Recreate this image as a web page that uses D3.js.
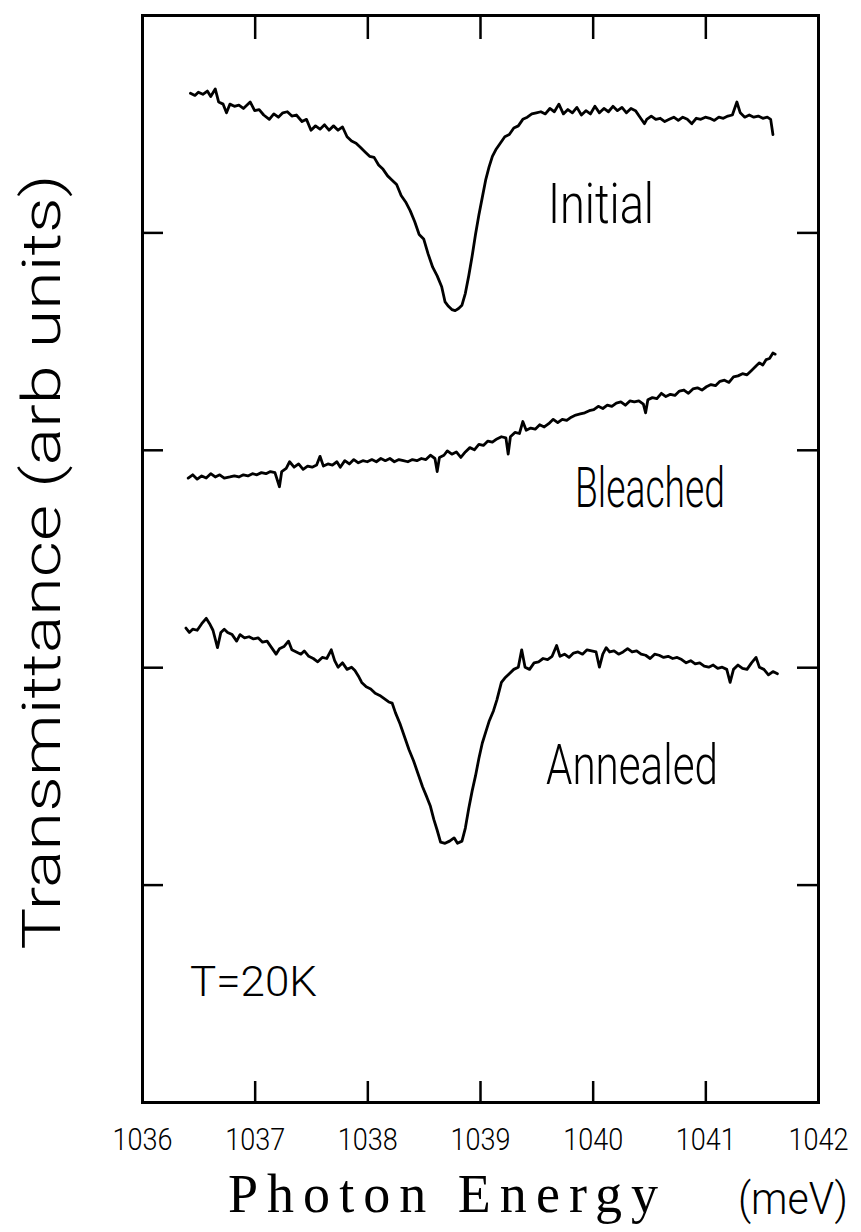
<!DOCTYPE html>
<html>
<head>
<meta charset="utf-8">
<script src="https://cdn.jsdelivr.net/npm/d3@7"></script>
<style>
  html, body { margin: 0; padding: 0; background: #fff; }
  svg { display: block; }
</style>
</head>
<body>
<svg id="chart" width="861" height="1232"></svg>
<script>
// ---- data ----
const xTickValues = [1036, 1037, 1038, 1039, 1040, 1041, 1042];
const xTickLabels = ["1036", "1037", "1038", "1039", "1040", "1041", "1042"];
const yTickValues = [1, 2, 3, 4];

const seriesNames = ["Initial", "Bleached", "Annealed"];

const initialData = [
  [1036.43,4.64],[1036.47,4.63],[1036.50,4.645],[1036.54,4.635],[1036.58,4.65],[1036.61,4.625],
  [1036.65,4.66],[1036.68,4.60],[1036.72,4.59],[1036.75,4.55],[1036.78,4.59],[1036.82,4.58],
  [1036.86,4.585],[1036.90,4.57],[1036.96,4.60],[1037.00,4.56],[1037.04,4.565],[1037.08,4.54],
  [1037.13,4.52],[1037.17,4.545],[1037.21,4.53],[1037.25,4.55],[1037.29,4.555],[1037.33,4.535],
  [1037.37,4.54],[1037.42,4.51],[1037.46,4.52],[1037.50,4.47],[1037.54,4.49],[1037.58,4.475],
  [1037.62,4.495],[1037.66,4.47],[1037.70,4.49],[1037.74,4.47],[1037.78,4.485],[1037.82,4.44],
  [1037.86,4.42],[1037.90,4.41],[1037.94,4.39],[1037.98,4.37],[1038.02,4.35],[1038.06,4.345],
  [1038.10,4.31],[1038.14,4.29],[1038.18,4.26],[1038.22,4.24],[1038.26,4.22],[1038.30,4.17],
  [1038.34,4.14],[1038.38,4.10],[1038.42,4.05],[1038.46,3.99],[1038.50,3.97],[1038.54,3.90],
  [1038.58,3.84],[1038.62,3.80],[1038.66,3.75],[1038.69,3.68],[1038.72,3.66],[1038.75,3.645],
  [1038.78,3.64],[1038.81,3.65],[1038.84,3.665],[1038.87,3.72],[1038.90,3.80],[1038.93,3.89],
  [1038.96,3.99],[1038.99,4.08],[1039.02,4.16],[1039.05,4.24],[1039.08,4.30],[1039.11,4.35],
  [1039.14,4.38],[1039.18,4.41],[1039.22,4.44],[1039.26,4.45],[1039.30,4.48],[1039.34,4.49],
  [1039.38,4.52],[1039.42,4.53],[1039.46,4.545],[1039.50,4.55],[1039.54,4.555],[1039.58,4.545],
  [1039.62,4.57],[1039.66,4.555],[1039.70,4.59],[1039.74,4.545],[1039.78,4.565],[1039.82,4.55],
  [1039.86,4.575],[1039.90,4.54],[1039.94,4.56],[1039.98,4.545],[1040.02,4.58],[1040.06,4.55],
  [1040.10,4.57],[1040.14,4.555],[1040.18,4.58],[1040.22,4.56],[1040.26,4.575],[1040.30,4.55],
  [1040.34,4.57],[1040.38,4.56],[1040.42,4.53],[1040.46,4.50],[1040.48,4.52],[1040.52,4.535],
  [1040.56,4.52],[1040.60,4.525],[1040.64,4.51],[1040.68,4.52],[1040.72,4.53],[1040.76,4.515],
  [1040.80,4.53],[1040.84,4.52],[1040.88,4.50],[1040.92,4.525],[1040.96,4.52],[1041.00,4.53],
  [1041.04,4.525],[1041.08,4.515],[1041.12,4.53],[1041.16,4.525],[1041.20,4.535],[1041.24,4.54],
  [1041.28,4.60],[1041.31,4.55],[1041.35,4.53],[1041.39,4.54],[1041.43,4.53],[1041.47,4.535],
  [1041.51,4.525],[1041.55,4.53],[1041.58,4.52],[1041.60,4.45]
];

const bleachedData = [
  [1036.41,2.87],[1036.45,2.885],[1036.49,2.865],[1036.53,2.88],[1036.57,2.87],[1036.61,2.89],
  [1036.65,2.875],[1036.69,2.885],[1036.73,2.87],[1036.78,2.875],[1036.82,2.88],[1036.86,2.875],
  [1036.90,2.885],[1036.94,2.88],[1036.98,2.89],[1037.02,2.885],[1037.06,2.895],[1037.10,2.89],
  [1037.14,2.90],[1037.18,2.895],[1037.22,2.83],[1037.24,2.90],[1037.28,2.915],[1037.31,2.945],
  [1037.35,2.92],[1037.39,2.935],[1037.43,2.91],[1037.47,2.925],[1037.51,2.92],[1037.55,2.93],
  [1037.58,2.97],[1037.61,2.925],[1037.65,2.935],[1037.69,2.93],[1037.73,2.945],[1037.76,2.92],
  [1037.80,2.95],[1037.84,2.935],[1037.88,2.955],[1037.92,2.94],[1037.96,2.95],[1038.00,2.945],
  [1038.04,2.955],[1038.08,2.945],[1038.12,2.96],[1038.16,2.95],[1038.20,2.96],[1038.24,2.945],
  [1038.28,2.955],[1038.32,2.95],[1038.36,2.945],[1038.40,2.955],[1038.44,2.95],[1038.48,2.96],
  [1038.52,2.955],[1038.56,2.975],[1038.60,2.96],[1038.62,2.90],[1038.64,2.965],[1038.68,2.975],
  [1038.71,2.995],[1038.75,2.98],[1038.79,2.99],[1038.83,2.965],[1038.87,2.99],[1038.91,3.01],
  [1038.95,3.00],[1038.99,3.025],[1039.03,3.02],[1039.07,3.04],[1039.11,3.035],[1039.15,3.05],
  [1039.19,3.06],[1039.23,3.055],[1039.25,2.98],[1039.27,3.06],[1039.31,3.08],[1039.35,3.075],
  [1039.38,3.13],[1039.41,3.09],[1039.45,3.10],[1039.49,3.095],[1039.53,3.115],[1039.57,3.105],
  [1039.61,3.12],[1039.65,3.14],[1039.69,3.125],[1039.73,3.14],[1039.77,3.135],[1039.81,3.15],
  [1039.85,3.16],[1039.89,3.165],[1039.93,3.17],[1039.97,3.18],[1040.01,3.185],[1040.05,3.20],
  [1040.09,3.19],[1040.13,3.205],[1040.17,3.20],[1040.21,3.215],[1040.25,3.22],[1040.29,3.205],
  [1040.33,3.225],[1040.37,3.22],[1040.41,3.225],[1040.45,3.21],[1040.47,3.17],[1040.49,3.23],
  [1040.53,3.24],[1040.57,3.235],[1040.61,3.26],[1040.65,3.245],[1040.69,3.255],[1040.73,3.25],
  [1040.77,3.27],[1040.81,3.275],[1040.85,3.26],[1040.89,3.28],[1040.93,3.285],[1040.97,3.275],
  [1041.01,3.29],[1041.05,3.30],[1041.09,3.295],[1041.13,3.315],[1041.17,3.32],[1041.21,3.31],
  [1041.25,3.335],[1041.29,3.34],[1041.33,3.35],[1041.37,3.345],[1041.41,3.365],[1041.45,3.385],
  [1041.48,3.40],[1041.51,3.39],[1041.54,3.415],[1041.57,3.42],[1041.60,3.445],[1041.62,3.44]
];

const annealedData = [
  [1036.39,2.18],[1036.42,2.16],[1036.45,2.175],[1036.49,2.17],[1036.53,2.20],[1036.57,2.225],
  [1036.60,2.20],[1036.63,2.17],[1036.67,2.09],[1036.70,2.16],[1036.73,2.175],[1036.76,2.16],
  [1036.80,2.15],[1036.84,2.12],[1036.87,2.15],[1036.91,2.135],[1036.95,2.14],[1036.99,2.13],
  [1037.03,2.135],[1037.07,2.115],[1037.11,2.12],[1037.15,2.09],[1037.19,2.06],[1037.22,2.085],
  [1037.26,2.095],[1037.30,2.12],[1037.33,2.08],[1037.37,2.07],[1037.41,2.06],[1037.44,2.075],
  [1037.48,2.05],[1037.52,2.04],[1037.56,2.025],[1037.60,2.045],[1037.64,2.04],[1037.68,2.08],
  [1037.71,2.03],[1037.74,2.00],[1037.78,2.02],[1037.82,1.99],[1037.86,2.00],[1037.89,1.985],
  [1037.92,1.96],[1037.95,1.93],[1037.99,1.91],[1038.03,1.90],[1038.07,1.88],[1038.11,1.87],
  [1038.15,1.855],[1038.19,1.84],[1038.22,1.835],[1038.25,1.79],[1038.29,1.74],[1038.33,1.68],
  [1038.37,1.62],[1038.41,1.57],[1038.45,1.51],[1038.49,1.45],[1038.53,1.40],[1038.56,1.36],
  [1038.59,1.30],[1038.62,1.25],[1038.65,1.195],[1038.69,1.19],[1038.73,1.20],[1038.77,1.215],
  [1038.80,1.19],[1038.84,1.20],[1038.87,1.26],[1038.90,1.35],[1038.93,1.43],[1038.96,1.50],
  [1038.99,1.58],[1039.02,1.65],[1039.05,1.70],[1039.08,1.75],[1039.12,1.80],[1039.15,1.85],
  [1039.19,1.93],[1039.22,1.95],[1039.26,1.97],[1039.30,1.99],[1039.34,2.00],[1039.37,2.08],
  [1039.40,2.00],[1039.44,1.99],[1039.48,2.02],[1039.52,2.025],[1039.56,2.04],[1039.60,2.035],
  [1039.64,2.05],[1039.68,2.10],[1039.71,2.05],[1039.75,2.06],[1039.79,2.045],[1039.83,2.065],
  [1039.87,2.07],[1039.91,2.06],[1039.95,2.08],[1039.99,2.075],[1040.03,2.07],[1040.06,2.00],
  [1040.09,2.06],[1040.12,2.09],[1040.15,2.07],[1040.19,2.075],[1040.23,2.06],[1040.27,2.07],
  [1040.31,2.085],[1040.35,2.07],[1040.39,2.075],[1040.43,2.06],[1040.47,2.055],[1040.51,2.04],
  [1040.55,2.06],[1040.59,2.055],[1040.63,2.045],[1040.67,2.05],[1040.71,2.04],[1040.75,2.045],
  [1040.79,2.035],[1040.83,2.02],[1040.87,2.03],[1040.91,2.015],[1040.95,2.02],[1040.99,2.005],
  [1041.03,2.00],[1041.07,2.01],[1041.11,1.995],[1041.15,2.00],[1041.19,1.99],[1041.22,1.93],
  [1041.25,1.99],[1041.29,2.01],[1041.33,1.995],[1041.37,1.99],[1041.41,2.02],[1041.45,2.045],
  [1041.48,2.00],[1041.52,1.99],[1041.56,1.965],[1041.60,1.98],[1041.64,1.97]
];

// ---- layout ----
const svg = d3.select("#chart");
const x = d3.scaleLinear().domain([1036, 1042]).range([142, 818]);
const y = d3.scaleLinear().domain([0, 5]).range([1102, 15]);

const frameWidth = 3;
const tickLen = 21;
const sansFont = "Roboto, 'Liberation Sans', Arial, sans-serif";

// axes (ticks point inward)
const gBottom = svg.append("g").attr("transform", `translate(0,${y(0)})`)
  .call(d3.axisBottom(x).tickValues(xTickValues).tickSizeInner(-tickLen).tickSizeOuter(0)
    .tickPadding(25).tickFormat((d, i) => xTickLabels[i]));
const gTop = svg.append("g").attr("transform", `translate(0,${y(5)})`)
  .call(d3.axisTop(x).tickValues(xTickValues.slice(1, -1)).tickSizeInner(-tickLen - 3).tickSizeOuter(0).tickFormat(""));
const gLeft = svg.append("g").attr("transform", `translate(${x(1036)},0)`)
  .call(d3.axisLeft(y).tickValues(yTickValues).tickSizeInner(-tickLen).tickSizeOuter(0).tickFormat(""));
const gRight = svg.append("g").attr("transform", `translate(${x(1042)},0)`)
  .call(d3.axisRight(y).tickValues(yTickValues).tickSizeInner(-tickLen).tickSizeOuter(0).tickFormat(""));

[gBottom, gTop, gLeft, gRight].forEach(g => {
  g.select(".domain").attr("stroke", "#000").attr("stroke-width", frameWidth).attr("stroke-linecap", "square");
  g.selectAll(".tick line").attr("stroke", "#000").attr("stroke-width", 2.5);
});
gBottom.selectAll(".tick text")
  .attr("fill", "#000")
  .style("font-family", sansFont)
  .style("font-weight", "300")
  .style("font-size", "32px")
  .attr("textLength", 60)
  .attr("lengthAdjust", "spacingAndGlyphs");

// curves
const line = d3.line().x(d => x(d[0])).y(d => y(d[1]));
[initialData, bleachedData, annealedData].forEach(data => {
  svg.append("path")
    .datum(data)
    .attr("d", line)
    .attr("fill", "none")
    .attr("stroke", "#000")
    .attr("stroke-width", 2.8)
    .attr("stroke-linejoin", "round")
    .attr("stroke-linecap", "round");
});

// series labels
const seriesLabelPos = [
  { x: 548, y: 223, w: 106 },
  { x: 575, y: 507, w: 150 },
  { x: 546, y: 784, w: 172 }
];
seriesNames.forEach((name, i) => {
  svg.append("text")
    .attr("x", seriesLabelPos[i].x)
    .attr("y", seriesLabelPos[i].y)
    .attr("textLength", seriesLabelPos[i].w)
    .attr("lengthAdjust", "spacingAndGlyphs")
    .style("font-family", sansFont)
    .style("font-weight", "300")
    .style("font-size", "56px")
    .attr("fill", "#000")
    .text(name);
});

// temperature note
svg.append("text")
  .attr("x", 190).attr("y", 996)
  .attr("textLength", 127).attr("lengthAdjust", "spacingAndGlyphs")
  .style("font-family", sansFont).style("font-weight", "300").style("font-size", "43px")
  .attr("fill", "#000")
  .text("T=20K");

// y-axis title
svg.append("text")
  .attr("transform", "translate(60,562) rotate(-90)")
  .attr("text-anchor", "middle")
  .attr("textLength", 775).attr("lengthAdjust", "spacingAndGlyphs")
  .style("font-family", sansFont).style("font-weight", "300").style("font-size", "54px")
  .attr("fill", "#000")
  .text("Transmittance (arb units)");

// x-axis title
svg.append("text")
  .attr("x", 228).attr("y", 1212)
  .attr("textLength", 430).attr("lengthAdjust", "spacing")
  .style("font-family", "'Liberation Serif', 'DejaVu Serif', serif")
  .style("font-size", "54px")
  .attr("fill", "#000")
  .text("Photon Energy");
svg.append("text")
  .attr("x", 738).attr("y", 1214)
  .attr("textLength", 110).attr("lengthAdjust", "spacingAndGlyphs")
  .style("font-family", sansFont)
  .style("font-weight", "300")
  .style("font-size", "44px")
  .attr("fill", "#000")
  .text("(meV)");
</script>
</body>
</html>
